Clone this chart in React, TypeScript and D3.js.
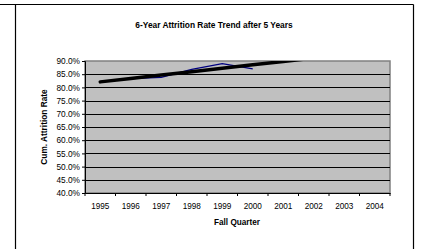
import * as d3 from "d3";
import { useEffect, useRef } from "react";

const years = ["1995", "1996", "1997", "1998", "1999", "2000", "2001", "2002", "2003", "2004"];
const attrition = [82.0, 83.3, 83.8, 86.8, 89.0, 87.0];
const yTicks = [40, 45, 50, 55, 60, 65, 70, 75, 80, 85, 90];

const W = 425;
const H = 249;
const margin = { left: 85, right: 35, top: 61, bottom: 56 };

const App = () => {
  const svgRef = useRef<SVGSVGElement>(null);

  useEffect(() => {
    const svg = d3.select(svgRef.current);
    svg.selectAll("*").remove();
    const width = W - margin.left - margin.right;
    const height = H - margin.top - margin.bottom;
    const font = "'Liberation Sans', Arial, sans-serif";

    // outer frame
    svg.append("line").attr("x1", 0).attr("x2", 413.5).attr("y1", 4.5).attr("y2", 4.5)
      .attr("stroke", "#000").attr("stroke-width", 1.2);
    svg.append("line").attr("x1", 15.5).attr("x2", 15.5).attr("y1", 4.5).attr("y2", H)
      .attr("stroke", "#000").attr("stroke-width", 1.2);
    svg.append("line").attr("x1", 413.5).attr("x2", 413.5).attr("y1", 4.5).attr("y2", H)
      .attr("stroke", "#000").attr("stroke-width", 1.2);

    svg.append("text").attr("x", 214).attr("y", 28).attr("text-anchor", "middle")
      .attr("font-family", font).attr("font-size", 8.4).attr("font-weight", "bold")
      .text("6-Year Attrition Rate Trend after 5 Years");

    const g = svg.append("g").attr("transform", `translate(${margin.left},${margin.top})`);

    const x = d3.scaleBand().domain(years).range([0, width]);
    const y = d3.scaleLinear().domain([40, 90]).range([height, 0]);

    g.append("rect").attr("width", width).attr("height", height)
      .attr("fill", "#c0c0c0").attr("stroke", "#808080").attr("stroke-width", 1.5);

    g.selectAll(".grid").data(yTicks.slice(1, -1)).join("line")
      .attr("class", "grid")
      .attr("x1", 0).attr("x2", width)
      .attr("y1", (d) => Math.round(y(d)) + 0.5).attr("y2", (d) => Math.round(y(d)) + 0.5)
      .attr("stroke", "#000").attr("stroke-width", 1);

    const defs = svg.append("defs");
    defs.append("clipPath").attr("id", "plot-clip").append("rect")
      .attr("width", width).attr("height", height);

    const cx = (i: number) => (x(years[i]) as number) + x.bandwidth() / 2;

    g.append("path").datum(attrition)
      .attr("clip-path", "url(#plot-clip)")
      .attr("fill", "none").attr("stroke", "#000080").attr("stroke-width", 1.3)
      .attr("d", d3.line<number>().x((_, i) => cx(i)).y((d) => y(d)));

    // linear trend line (least squares over the data points)
    const mx = d3.mean(attrition, (_, i) => i) as number;
    const my = d3.mean(attrition) as number;
    const sxy = d3.sum(attrition, (d, i) => (i - mx) * (d - my));
    const sxx = d3.sum(attrition, (_, i) => (i - mx) ** 2);
    const slope = sxy / sxx;
    const icpt = my - slope * mx;
    const trendIdx = d3.range(0, years.length);
    g.append("path").datum(trendIdx)
      .attr("clip-path", "url(#plot-clip)")
      .attr("fill", "none").attr("stroke", "#000").attr("stroke-width", 3.5)
      .attr("stroke-linecap", "round")
      .attr("d", d3.line<number>().x((i) => cx(i)).y((i) => y(icpt + slope * i)));

    const yAxis = g.append("g")
      .call(d3.axisLeft(y).tickValues(yTicks).tickSize(3).tickPadding(2)
        .tickFormat((d) => `${(+d).toFixed(1)}%`));
    yAxis.select(".domain").attr("stroke", "#000");
    yAxis.selectAll("text").attr("font-family", font).attr("font-size", 8.3).attr("fill", "#000");

    const xAxis = g.append("g").attr("transform", `translate(0,${height})`)
      .call(d3.axisBottom(x).tickSize(0).tickPadding(10));
    xAxis.select(".domain").attr("stroke", "#000");
    xAxis.selectAll("text").attr("font-family", font).attr("font-size", 8.2).attr("fill", "#000");

    const bounds = years.map((yr) => x(yr) as number).concat([width]);
    g.selectAll(".xtick").data(bounds).join("line")
      .attr("class", "xtick")
      .attr("x1", (d) => d).attr("x2", (d) => d)
      .attr("y1", height).attr("y2", height + 3)
      .attr("stroke", "#000");

    svg.append("text").attr("x", 237).attr("y", 225).attr("text-anchor", "middle")
      .attr("font-family", font).attr("font-size", 8.2).attr("font-weight", "bold")
      .text("Fall Quarter");

    svg.append("text")
      .attr("transform", `translate(47,${margin.top + height / 2}) rotate(-90)`)
      .attr("text-anchor", "middle")
      .attr("font-family", font).attr("font-size", 8.3).attr("font-weight", "bold")
      .text("Cum. Attrition Rate");
  }, []);

  return (
    <svg
      ref={svgRef}
      width={W}
      height={H}
      style={{ position: "absolute", left: 0, top: 0, background: "#fff" }}
    />
  );
};

export default App;
